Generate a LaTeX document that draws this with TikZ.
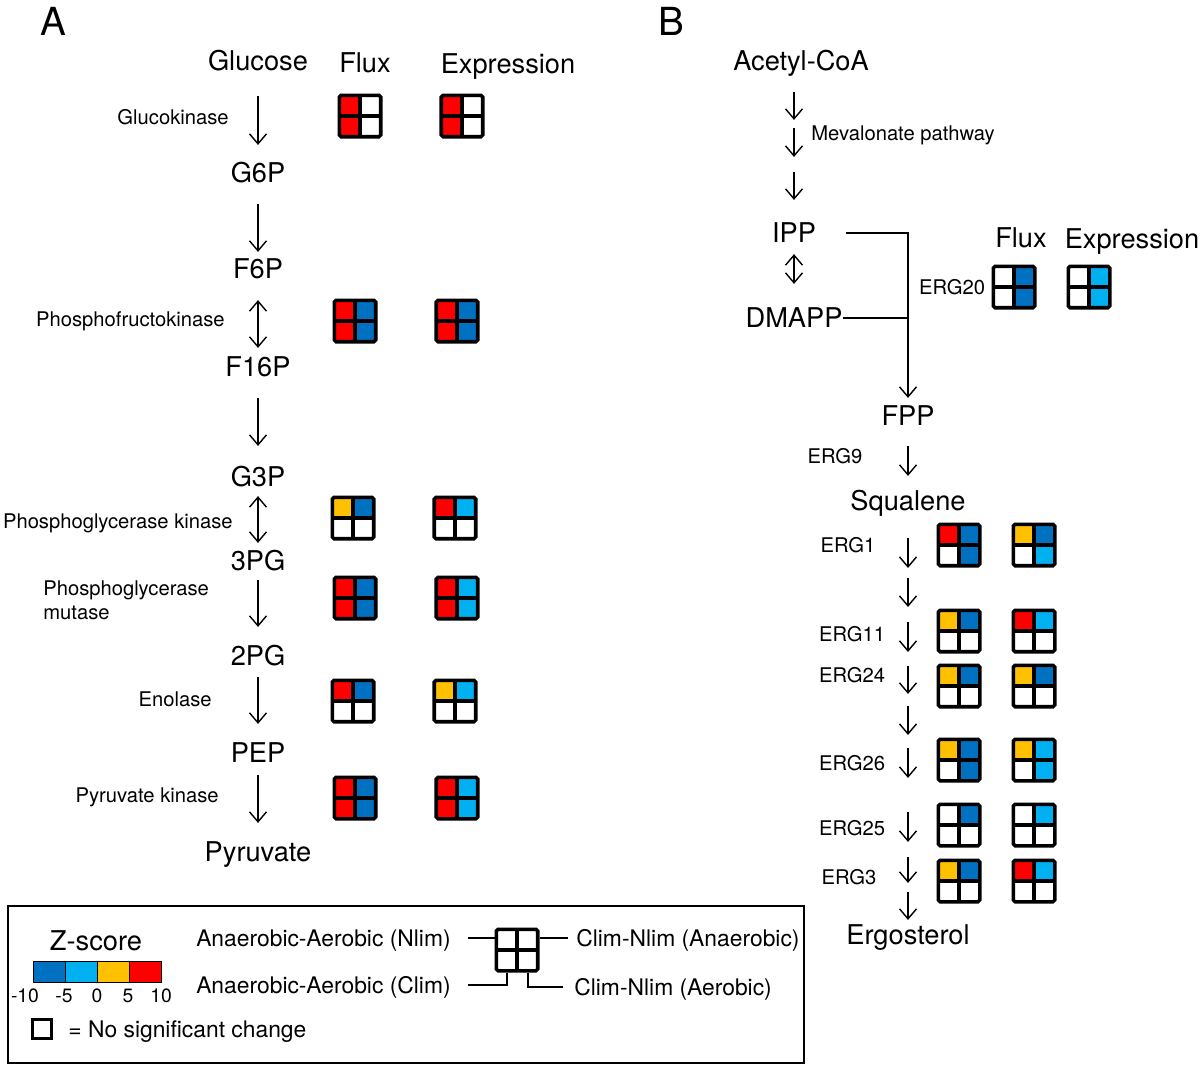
\documentclass[tikz,border=0pt]{standalone}
\usepackage{fontspec}
\setmainfont{TeX Gyre Heros}
\usepackage{tikz}
\usetikzlibrary{arrows.meta, positioning, calc}
\definecolor{zred}{HTML}{FF0000}
\definecolor{zyel}{HTML}{FFC000}
\definecolor{zdkb}{HTML}{0070C0}
\definecolor{zltb}{HTML}{00B0F0}

\begin{document}
\begin{tikzpicture}[
            x=0.02cm, y=-0.02cm,
            % Node styles
            panel/.style={font=\fontsize{22}{26}\selectfont, inner sep=0pt, text height=15.8pt, text depth=0pt},
            met/.style={font=\fontsize{15.5}{18}\selectfont, inner sep=0pt, text height=11.1pt, text depth=0pt},
            enz/.style={font=\fontsize{11.5}{13.6}\selectfont, inner sep=0pt, text height=8.3pt, text depth=0pt},
            leg/.style={font=\fontsize{13}{15}\selectfont, inner sep=0pt, text height=9.3pt, text depth=0pt},
            num/.style={font=\fontsize{11}{13}\selectfont, inner sep=0pt, text height=7.9pt, text depth=0pt},
            cell/.style={draw, line width=0.5pt, minimum width=6.4mm, minimum height=4.2mm, inner sep=0pt},
            zgrid/.style n args={4}{draw, line width=2pt, rounded corners=1pt, minimum size=8.3mm, inner sep=0pt,
                path picture={
                    \fill[#1, sharp corners] (path picture bounding box.north west) rectangle (path picture bounding box.center);
                    \fill[#2, sharp corners] (path picture bounding box.north east) rectangle (path picture bounding box.center);
                    \fill[#3, sharp corners] (path picture bounding box.south west) rectangle (path picture bounding box.center);
                    \fill[#4, sharp corners] (path picture bounding box.south east) rectangle (path picture bounding box.center);
                    \draw[line width=2.5pt] (path picture bounding box.north) -- (path picture bounding box.south)
                        (path picture bounding box.west) -- (path picture bounding box.east);
                }},
            % Connector styles
            rxn/.style={-{Straight Barb[length=2mm, width=3.4mm]}, line width=0.8pt},
            rev/.style={{Straight Barb[length=2mm, width=3.4mm]}-{Straight Barb[length=2mm, width=3.4mm]}, line width=0.8pt},
            lead/.style={line width=0.8pt}
        ]
            \useasboundingbox (0,0) rectangle (1200,1065);

            % Panel letters
            \node[panel] (pA) at (53,22) {A};
            \node[panel] (pB) at (671,22) {B};

            % Glycolysis
            \node[met] (glc) at (258,61) {Glucose};
            \node[met] (g6p) at (258,173) {G6P};
            \node[met] (f6p) at (258,269) {F6P};
            \node[met] (f16p) at (258,367) {F16P};
            \node[met] (g3p) at (258,477) {G3P};
            \node[met] (pg3) at (258,561) {3PG};
            \node[met] (pg2) at (258,656) {2PG};
            \node[met] (pep) at (258,753) {PEP};
            \node[met] (pyr) at (258,852) {Pyruvate};

            \node[met] (fluxA) at (365,63) {Flux};
            \node[met] (exprA) at (508,64) {Expression};

            % Enzymes (glycolysis)
            \node[enz, anchor=east] (gk) at (229,117) {Glucokinase};
            \node[enz, anchor=east] (pfk) at (225,319) {Phosphofructokinase};
            \node[enz, anchor=east] (pgk) at (233,521) {Phosphoglycerase kinase};
            \node[font=\fontsize{11.5}{13.6}\selectfont, inner sep=0pt, align=left, anchor=west] (pgm) at (43,600) {Phosphoglycerase\\mutase};
            \node[enz, anchor=east] (eno) at (212,699) {Enolase};
            \node[enz, anchor=east] (pk) at (219,795) {Pyruvate kinase};

            % Reactions (glycolysis)
            \draw[rxn, shorten <=5mm, shorten >=3.6mm] (glc) -- (g6p);
            \draw[rxn, shorten <=4.2mm, shorten >=1.4mm] (g6p) -- (f6p);
            \draw[rev, shorten <=4.2mm, shorten >=1.8mm] (f6p) -- (f16p);
            \draw[rxn, shorten <=4.2mm, shorten >=4.2mm] (f16p) -- (g3p);
            \draw[rev, shorten <=1.8mm, shorten >=1.6mm] (g3p) -- (pg3);
            \draw[rxn, shorten <=1.8mm, shorten >=3.8mm] (pg3) -- (pg2);
            \draw[rxn, shorten <=2.2mm, shorten >=3.8mm] (pg2) -- (pep);
            \draw[rxn, shorten <=2.4mm, shorten >=3.8mm] (pep) -- (pyr);

            % Z-score grids (glycolysis)
            \node[zgrid={zred}{white}{zred}{white}] (gkF) at (360,116) {};
            \node[zgrid={zred}{white}{zred}{white}, right=11.4mm of gkF] (gkE) {};
            \node[zgrid={zred}{zdkb}{zred}{zdkb}] (pfkF) at (355,321) {};
            \node[zgrid={zred}{zdkb}{zred}{zdkb}, right=11.4mm of pfkF] (pfkE) {};
            \node[zgrid={zyel}{zdkb}{white}{white}] (pgkF) at (353,518) {};
            \node[zgrid={zred}{zltb}{white}{white}, right=11.4mm of pgkF] (pgkE) {};
            \node[zgrid={zred}{zdkb}{zred}{zdkb}] (pgmF) at (355,598) {};
            \node[zgrid={zred}{zltb}{zred}{zltb}, right=11.4mm of pgmF] (pgmE) {};
            \node[zgrid={zred}{zdkb}{white}{white}] (enoF) at (353,701) {};
            \node[zgrid={zyel}{zltb}{white}{white}, right=11.4mm of enoF] (enoE) {};
            \node[zgrid={zred}{zdkb}{zred}{zdkb}] (pkF) at (355,798) {};
            \node[zgrid={zred}{zltb}{zred}{zltb}, right=11.4mm of pkF] (pkE) {};

            % Sterol pathway
            \node[met] (acoa) at (801,61) {Acetyl-CoA};
            \node[met] (ipp) at (794,233) {IPP};
            \node[met] (dmapp) at (794,318) {DMAPP};
            \node[met] (fpp) at (908,416) {FPP};
            \node[met] (sq) at (908,501) {Squalene};
            \node[met] (ergo) at (908,935) {Ergosterol};

            \node[met] (fluxB) at (1021,238) {Flux};
            \node[met] (exprB) at (1132,239) {Expression};

            % Enzymes (sterol)
            \node[enz, anchor=west] (mev) at (811,133) {Mevalonate pathway};
            \node[enz] (erg20) at (952,287) {ERG20};
            \node[enz] (erg9) at (835,456) {ERG9};
            \node[enz] (erg1) at (848,545) {ERG1};
            \node[enz] (erg11) at (852,634) {ERG11};
            \node[enz] (erg24) at (852,675) {ERG24};
            \node[enz] (erg26) at (852,763) {ERG26};
            \node[enz] (erg25) at (852,828) {ERG25};
            \node[enz] (erg3) at (849,877) {ERG3};

            % Reactions (sterol)
            \draw[rxn, shorten <=4.2mm, shorten >=20.6mm] (acoa.south -| ipp) -- (ipp);
            \draw[rxn, shorten <=11.4mm, shorten >=13.2mm] (acoa.south -| ipp) -- (ipp);
            \draw[rxn, shorten <=20.2mm, shorten >=4.6mm] (acoa.south -| ipp) -- (ipp);
            \draw[rev, shorten <=2.2mm, shorten >=4.8mm] (ipp) -- (dmapp);
            \draw[rxn, shorten >=1.6mm] ([xshift=6mm]ipp.east) -| (fpp.north);
            \draw[lead] (dmapp.east) -- (dmapp.east -| fpp.north);
            \draw[rxn, shorten <=4mm, shorten >=3mm] (fpp) -- (sq);
            \draw[rxn, shorten <=5.4mm, shorten >=71.4mm] (sq) -- (ergo);
            \draw[rxn, shorten <=13.4mm, shorten >=63.6mm] (sq) -- (ergo);
            \draw[rxn, shorten <=22.2mm, shorten >=54.6mm] (sq) -- (ergo);
            \draw[rxn, shorten <=31mm, shorten >=46.2mm] (sq) -- (ergo);
            \draw[rxn, shorten <=39mm, shorten >=38mm] (sq) -- (ergo);
            \draw[rxn, shorten <=47.4mm, shorten >=29.4mm] (sq) -- (ergo);
            \draw[rxn, shorten <=60.2mm, shorten >=16.6mm] (sq) -- (ergo);
            \draw[rxn, shorten <=69.2mm, shorten >=8.4mm] (sq) -- (ergo);
            \draw[rxn, shorten <=76.2mm, shorten >=1mm] (sq) -- (ergo);

            % Z-score grids (sterol)
            \node[zgrid={white}{zdkb}{white}{zdkb}] (erg20F) at (1014,287) {};
            \node[zgrid={white}{zltb}{white}{zltb}, right=6mm of erg20F] (erg20E) {};
            \node[zgrid={zred}{zdkb}{white}{zdkb}] (erg1F) at (959,545) {};
            \node[zgrid={zyel}{zdkb}{white}{zltb}, right=6mm of erg1F] (erg1E) {};
            \node[zgrid={zyel}{zdkb}{white}{white}] (erg11F) at (959,631) {};
            \node[zgrid={zred}{zltb}{white}{white}, right=6mm of erg11F] (erg11E) {};
            \node[zgrid={zyel}{zdkb}{white}{white}] (erg24F) at (959,686) {};
            \node[zgrid={zyel}{zdkb}{white}{white}, right=6mm of erg24F] (erg24E) {};
            \node[zgrid={zyel}{zdkb}{white}{zdkb}] (erg26F) at (959,760) {};
            \node[zgrid={zyel}{zltb}{white}{zltb}, right=6mm of erg26F] (erg26E) {};
            \node[zgrid={white}{zdkb}{white}{white}] (erg25F) at (959,825) {};
            \node[zgrid={white}{zltb}{white}{white}, right=6mm of erg25F] (erg25E) {};
            \node[zgrid={zyel}{zdkb}{white}{white}] (erg3F) at (959,881) {};
            \node[zgrid={zred}{zltb}{white}{white}, right=6mm of erg3F] (erg3E) {};

            % Legend
            \draw[line width=1.1pt] (8,906) rectangle (804,1063);
            \node[met] (zs) at (96,941) {Z-score};
            \node[cell, fill=zdkb] (bar1) at (49,971.5) {};
            \node[cell, fill=zltb] (bar2) at (81,971.5) {};
            \node[cell, fill=zyel] (bar3) at (113,971.5) {};
            \node[cell, fill=zred] (bar4) at (145,971.5) {};
            \node[num] (n1) at (25,996) {-10};
            \node[num] (n2) at (64,996) {-5};
            \node[num] (n3) at (97,996) {0};
            \node[num] (n4) at (128,996) {5};
            \node[num] (n5) at (161,996) {10};
            \node[draw, line width=2pt, minimum size=3.8mm, inner sep=0pt] (nsq) at (42,1029) {};
            \node[leg, anchor=west] (nsc) at (68,1029) {= No significant change};

            \node[leg, anchor=east] (nlim) at (451,938) {Anaerobic-Aerobic (Nlim)};
            \node[leg, anchor=east] (clim) at (451,985) {Anaerobic-Aerobic (Clim)};
            \node[zgrid={white}{white}{white}{white}] (lgrid) at (517,950) {};
            \node[leg, anchor=west] (anae) at (576,938) {Clim-Nlim (Anaerobic)};
            \node[leg, anchor=west] (aero) at (574,987) {Clim-Nlim (Aerobic)};

            \draw[lead, shorten <=3.4mm] (nlim.east) -- (nlim.east -| lgrid.west);
            \draw[lead, shorten <=1.6mm] (anae.west) -- (anae.west -| lgrid.east);
            \draw[lead, shorten <=3.4mm] (clim.east) -| ([xshift=-2mm]lgrid.south);
            \draw[lead, shorten <=2.2mm] (aero.west) -| ([xshift=2.2mm]lgrid.south);
        \end{tikzpicture}
\end{document}
